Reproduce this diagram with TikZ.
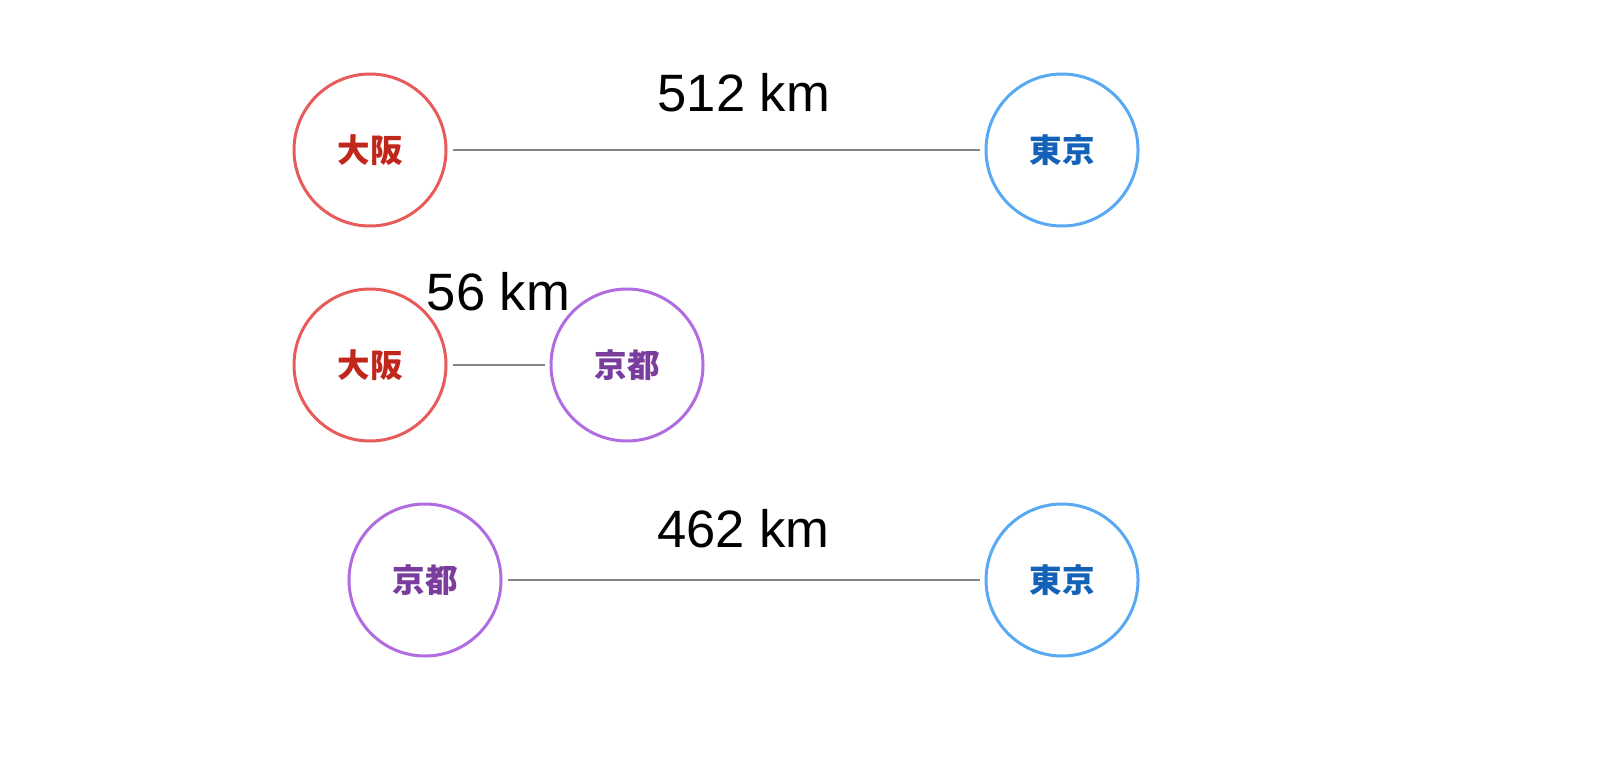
\documentclass[tikz,border=0pt]{standalone}
\usepackage{fontspec}
\setmainfont{Liberation Sans}
\newfontfamily\cjk{Noto Sans CJK JP}
\usepackage{xcolor}
\usetikzlibrary{positioning}

\definecolor{osakaline}{HTML}{E85B5B}
\definecolor{osakatext}{HTML}{C0261C}
\definecolor{kyotoline}{HTML}{B06CE0}
\definecolor{kyototext}{HTML}{7A3D9E}
\definecolor{tokyoline}{HTML}{58A8F2}
\definecolor{tokyotext}{HTML}{1462B8}
\definecolor{roadline}{HTML}{858585}

\begin{document}
\begin{tikzpicture}[x=0.72bp, y=-0.72bp, node distance={498.24bp},
  city/.style = {draw, circle, line width=2.16bp, minimum size=109.44bp, inner sep=0pt,
                 font=\cjk\bfseries\fontsize{23.5}{25}\selectfont},
  osaka/.style = {city, draw=osakaline, text=osakatext},
  kyoto/.style = {city, draw=kyotoline, text=kyototext},
  tokyo/.style = {city, draw=tokyoline, text=tokyotext},
  road/.style = {draw=roadline, line width=1.05bp, shorten >=3.6bp, shorten <=3.6bp},
  dist/.style = {font=\fontsize{38}{40}\selectfont, inner sep=0pt}]
      \useasboundingbox (0,0) rectangle (1600,760);

      \node[osaka] (osaka_1) at (370,150) {大阪};
      \node[tokyo] (tokyo_1) [right of=osaka_1] {東京};

      \node[osaka] (osaka_2) at (370,365) {大阪};
      \node[kyoto] (kyoto_2) [right of=osaka_2, node distance=185.04bp] {京都};

      \node[kyoto] (kyoto_3) at (425,580) {京都};
      \node[tokyo] (tokyo_3) [right of=kyoto_3, node distance=458.64bp] {東京};

      \draw[road] (osaka_1) -- node[dist, above=26.6bp, anchor=south, xshift=20bp] {512 km} (tokyo_1);
      \draw[road] (osaka_2) -- node[dist, above=38bp, anchor=south] {56 km} (kyoto_2);
      \draw[road] (kyoto_3) -- node[dist, above=22.3bp, anchor=south] {462 km} (tokyo_3);
    \end{tikzpicture}
\end{document}
